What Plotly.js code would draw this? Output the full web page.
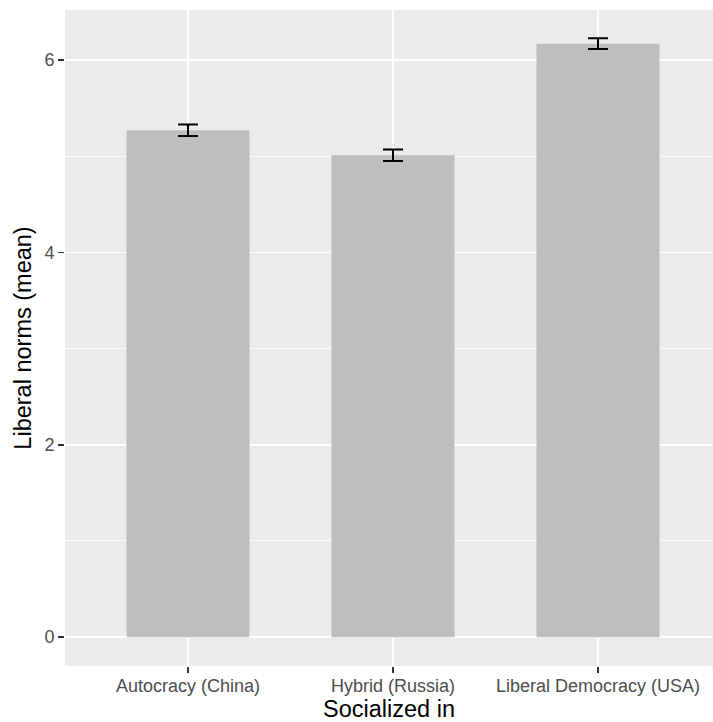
<!DOCTYPE html>
<html>
<head>
<meta charset="utf-8">
<script src="https://cdn.plot.ly/plotly-3.0.1.min.js"></script>
<style>html,body{margin:0;padding:0;background:#fff;}#chart{width:713px;height:722px;}</style>
</head>
<body>
<div id="chart"></div>
<script>
const categories = ["Autocracy (China)", "Hybrid (Russia)", "Liberal Democracy (USA)"];
const means = [5.27, 5.01, 6.17];
const errors = [0.06, 0.06, 0.056];
const yTickVals = [0, 2, 4, 6];
const yTickText = ["0", "2", "4", "6"];

const trace = {
  type: "bar",
  x: categories,
  y: means,
  width: 0.6,
  marker: {color: "#BEBEBE", line: {width: 0}},
  error_y: {type: "data", array: errors, visible: true, color: "#000000", thickness: 2, width: 10},
  hoverinfo: "skip"
};

const layout = {
  width: 713,
  height: 722,
  margin: {l: 65, r: 0, t: 10, b: 56},
  paper_bgcolor: "#FFFFFF",
  plot_bgcolor: "#EBEBEB",
  showlegend: false,
  font: {family: "Liberation Sans, Arial, sans-serif"},
  xaxis: {
    type: "category",
    range: [-0.6, 2.561],
    showgrid: true,
    gridcolor: "#FFFFFF",
    gridwidth: 1.5,
    zeroline: false,
    showline: false,
    ticks: "outside",
    ticklen: 6,
    tickwidth: 1.5,
    tickcolor: "#333333",
    ticklabelstandoff: -3,
    tickfont: {size: 18, color: "#4D4D4D"},
    title: {text: "Socialized in", font: {size: 23.5, color: "#000000"}, standoff: 6},
    automargin: false
  },
  yaxis: {
    range: [-0.30, 6.52],
    tickmode: "array",
    tickvals: yTickVals,
    ticktext: yTickText,
    showgrid: true,
    gridcolor: "#FFFFFF",
    gridwidth: 1.5,
    minor: {tickmode: "array", tickvals: [1, 3, 5], showgrid: true, gridcolor: "#FFFFFF", gridwidth: 0.75, ticks: ""},
    zeroline: false,
    showline: false,
    ticks: "outside",
    ticklen: 6,
    tickwidth: 1.5,
    tickcolor: "#333333",
    tickfont: {size: 18, color: "#4D4D4D"},
    title: {text: "Liberal norms (mean)", font: {size: 23.5, color: "#000000"}, standoff: 6},
    automargin: false
  }
};

Plotly.newPlot("chart", [trace], layout, {displayModeBar: false, staticPlot: true});
</script>
</body>
</html>
